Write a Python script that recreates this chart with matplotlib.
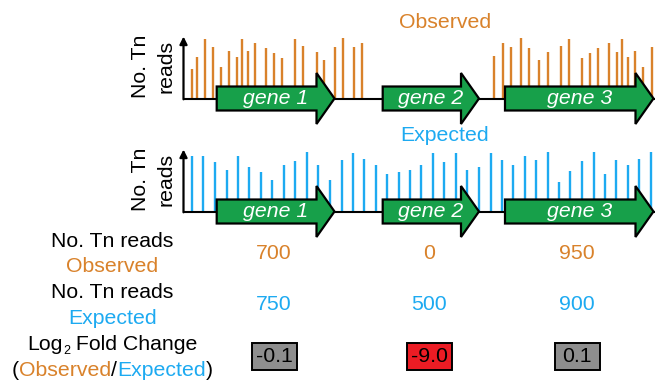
import matplotlib.pyplot as plt
from matplotlib.patches import Polygon, Rectangle

plt.rcParams['font.family'] = ['Liberation Sans', 'DejaVu Sans']

# insertion sites (x along the genome) and read heights
obs_pos = [191.7, 197.3, 205, 212.7, 221, 229, 236.7, 242.3, 247.7, 255.3, 266, 274,
           281.7, 295.3, 303.3, 316.7, 324.3, 335, 343.3, 354, 361.7,
           494.3, 502.7, 510.7, 521, 529, 539.3, 547.7, 561, 569, 582.3, 590, 598,
           608.7, 616.7, 622.3, 627.7, 635, 643.3, 651.7]
obs_reads = [30, 42, 60, 52, 32, 48, 42, 60, 48, 56, 51, 46, 41, 60, 53, 47, 39, 52, 61, 52, 56,
             43, 56, 52, 61, 51, 39, 47, 53, 60, 41, 46, 51, 56, 47, 60, 42, 48, 32, 52]

exp_pos = [192.3, 203.3, 215, 226.7, 238.3, 249.3, 260.7, 272.3, 283.7, 295.3, 306.7, 318,
           329.7, 341.7, 353, 364.3, 375.7, 387, 398.7, 410, 421.3, 433, 444.3, 456, 467.3,
           479, 490.7, 501.7, 513, 524.7, 536, 547.7, 559, 570.3, 582, 593.7, 605, 616.3,
           627.7, 639.3, 651]
exp_reads = [55.5, 55.5, 50, 42, 55.5, 45, 40, 31.5, 47, 50.5, 60, 47, 31.5,
             51.5, 59, 52.5, 47, 38, 40, 41.5, 47, 59, 50, 59, 41.5, 45,
             59, 51.5, 46.5, 55.5, 51.5, 60, 30, 41, 51, 60, 38, 51.5, 46.5, 53, 60]

genes = ['gene 1', 'gene 2', 'gene 3']
gene_start = [216.7, 382.7, 505]
gene_end = [334.5, 479, 653.5]

obs_total = ['700', '0', '950']
exp_total = ['750', '500', '900']
log2fc = ['-0.1', '-9.0', '0.1']
fc_colors = ['#8E8E8E', '#EC1C24', '#8E8E8E']

ORANGE = '#D9822B'
BLUE = '#1DAAF1'
GREEN = '#17A04A'
FS = 15.3

fig = plt.figure(figsize=(6.55, 3.81), dpi=100)
ax = fig.add_axes([0, 0, 1, 1])
ax.set_xlim(0, 655)
ax.set_ylim(381, 0)
ax.axis('off')
renderer = fig.canvas.get_renderer()


def draw_track(base, pos, reads, color, title):
    ax.vlines(pos, base, [base - r for r in reads], color=color, lw=1.7, zorder=1)
    ax.plot([183.5, 655], [base, base], color='black', lw=1.5, zorder=2)
    ax.annotate('', xy=(183.5, base - 62), xytext=(183.5, base + 0.8),
                arrowprops=dict(arrowstyle='-|>', lw=1.6, color='black',
                                mutation_scale=11, shrinkA=0, shrinkB=0))
    ax.text(141, base - 32, 'No. Tn', rotation=90, ha='center', va='center', fontsize=FS)
    ax.text(166, base - 32, 'reads', rotation=90, ha='center', va='center', fontsize=FS)
    ax.text(445, base - 76, title, color=color, ha='center', va='center', fontsize=FS)
    for name, s, e in zip(genes, gene_start, gene_end):
        hs = e - 18
        verts = [(s, base - 12), (hs, base - 12), (hs, base - 25.5), (e, base),
                 (hs, base + 25.5), (hs, base + 12), (s, base + 12)]
        ax.add_patch(Polygon(verts, closed=True, facecolor=GREEN, edgecolor='black',
                             lw=1.6, joinstyle='miter', zorder=3))
        ax.text((s + e) / 2, base, name, color='white', style='italic',
                ha='center', va='center', fontsize=FS, zorder=4)


def pieces_line(xc, y, pieces):
    # draw a centred line made of differently styled chunks
    widths = []
    for s, c, fs, dy in pieces:
        t = ax.text(0, 0, s, fontsize=fs)
        widths.append(t.get_window_extent(renderer).width)
        t.remove()
    x = xc - sum(widths) / 2
    for (s, c, fs, dy), w in zip(pieces, widths):
        ax.text(x, y + dy, s, color=c, ha='left', va='center', fontsize=fs)
        x += w


draw_track(98.5, obs_pos, obs_reads, ORANGE, 'Observed')
draw_track(211.5, exp_pos, exp_reads, BLUE, 'Expected')

# table on the bottom
ax.text(112.5, 241.7, 'No. Tn reads', ha='center', va='center', fontsize=FS)
ax.text(112.5, 266.7, 'Observed', color=ORANGE, ha='center', va='center', fontsize=FS)
ax.text(112.5, 292.7, 'No. Tn reads', ha='center', va='center', fontsize=FS)
ax.text(112.5, 318.3, 'Expected', color=BLUE, ha='center', va='center', fontsize=FS)
pieces_line(112.5, 345, [('Log', 'black', FS, 0), ('2', 'black', 9, 6),
                         (' Fold Change', 'black', FS, 0)])
pieces_line(112.5, 370, [('(', 'black', FS, 0), ('Observed', ORANGE, FS, 0),
                         ('/', 'black', FS, 0), ('Expected', BLUE, FS, 0),
                         (')', 'black', FS, 0)])

col_x = [274, 429, 577]
for cx, o, e, v, fc in zip(col_x, obs_total, exp_total, log2fc, fc_colors):
    ax.text(cx, 253.3, o, color=ORANGE, ha='center', va='center', fontsize=FS)
    ax.text(cx, 305, e, color=BLUE, ha='center', va='center', fontsize=FS)
    ax.add_patch(Rectangle((cx - 22.5, 343), 45, 27, facecolor=fc, edgecolor='black', lw=1.4))
    ax.text(cx, 356.5, v, color='black', ha='center', va='center', fontsize=FS)

fig.savefig('out.png', dpi=100)
